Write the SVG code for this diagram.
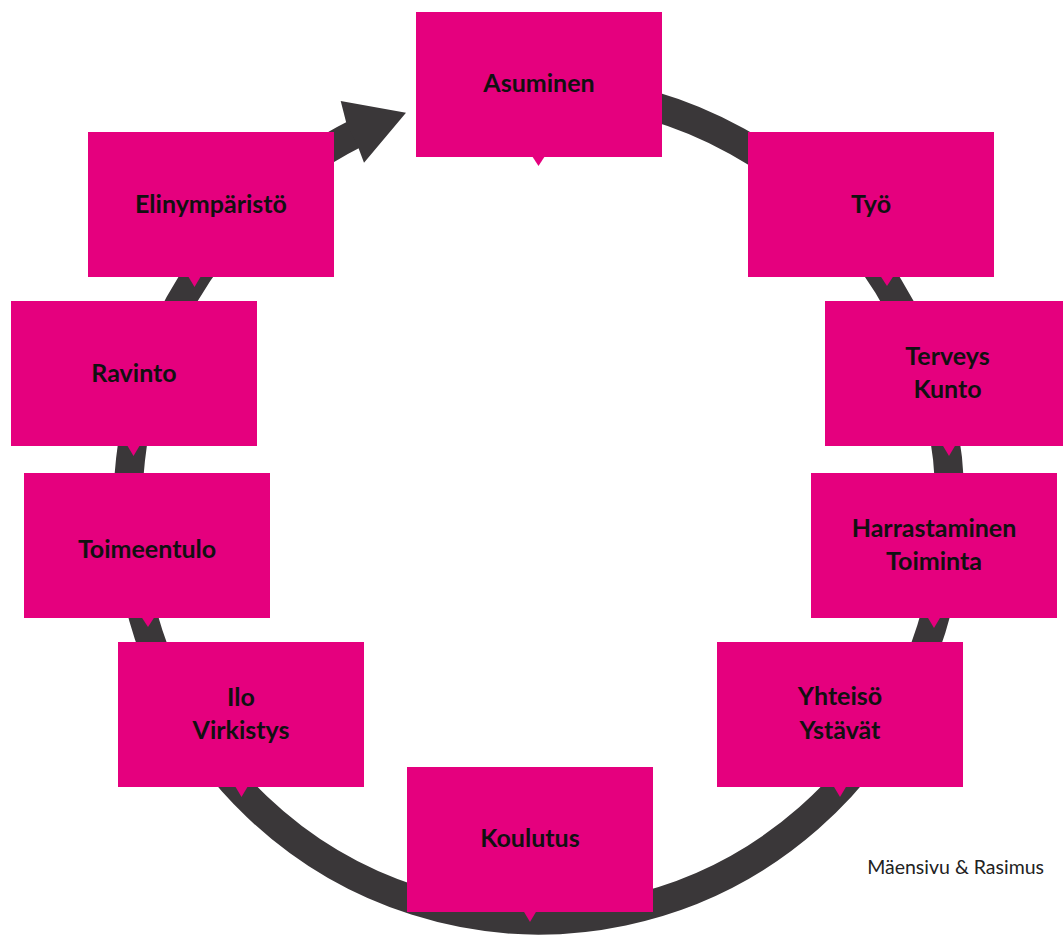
<svg xmlns="http://www.w3.org/2000/svg" width="1063" height="935" viewBox="0 0 1063 935">
  <style>
    .box { fill: #e5007e; }
    .lbl { font-family: Lato, "Liberation Sans", sans-serif; font-weight: bold; font-size: 25px; fill: #111; text-anchor: middle; }
    .ring { fill: none; stroke: #3a3739; stroke-width: 29; }
    .credit { font-family: Lato, "Liberation Sans", sans-serif; font-size: 19.5px; fill: #222; text-anchor: end; }
  </style>
  <rect width="1063" height="935" fill="#ffffff"/>
  <g id="connectors">
    <path class="ring" d="M 356 133.4 A 411 415 0 1 0 560 90.5"/>
    <polygon fill="#3a3739" points="406,112.7 340.7,101 346,121.7 358,146.7 364,162.7"/>
  </g>
  <g id="asuminen">
    <rect class="box" x="416" y="12" width="246" height="145"/>
    <polygon class="box" points="532,156 545,156 538.5,166"/>
    <text class="lbl" x="539" y="91.5">Asuminen</text>
  </g>
  <g id="tyo">
    <rect class="box" x="748" y="132" width="246" height="145"/>
    <polygon class="box" points="880.5,276 893.5,276 887,286"/>
    <text class="lbl" x="871" y="212.5">Työ</text>
  </g>
  <g id="terveys">
    <rect class="box" x="825" y="301" width="246" height="145"/>
    <polygon class="box" points="942.5,445 955.5,445 949,456"/>
    <text class="lbl" x="947.5" y="364.5">Terveys</text>
    <text class="lbl" x="947.5" y="398">Kunto</text>
  </g>
  <g id="harrastaminen">
    <rect class="box" x="811" y="473" width="246" height="145"/>
    <polygon class="box" points="927.5,617 940.5,617 934,628"/>
    <text class="lbl" x="934" y="536.5">Harrastaminen</text>
    <text class="lbl" x="934" y="570">Toiminta</text>
  </g>
  <g id="yhteiso">
    <rect class="box" x="717" y="642" width="246" height="145"/>
    <polygon class="box" points="833.5,786 846.5,786 840,797"/>
    <text class="lbl" x="840" y="705">Yhteisö</text>
    <text class="lbl" x="840" y="738.5">Ystävät</text>
  </g>
  <g id="koulutus">
    <rect class="box" x="407" y="767" width="246" height="145"/>
    <polygon class="box" points="523.5,911 536.5,911 530,922"/>
    <text class="lbl" x="530" y="846.5">Koulutus</text>
  </g>
  <g id="ilo">
    <rect class="box" x="118" y="642" width="246" height="145"/>
    <polygon class="box" points="235,786 248,786 241.5,797"/>
    <text class="lbl" x="241" y="705.5">Ilo</text>
    <text class="lbl" x="241" y="738.5">Virkistys</text>
  </g>
  <g id="toimeentulo">
    <rect class="box" x="24" y="473" width="246" height="145"/>
    <polygon class="box" points="141.5,617 154.5,617 148,627"/>
    <text class="lbl" x="147" y="557.5">Toimeentulo</text>
  </g>
  <g id="ravinto">
    <rect class="box" x="11" y="301" width="246" height="145"/>
    <polygon class="box" points="127,445 140,445 133.5,456"/>
    <text class="lbl" x="134" y="381.5">Ravinto</text>
  </g>
  <g id="elinymparisto">
    <rect class="box" x="88" y="132" width="246" height="145"/>
    <polygon class="box" points="188,276 201,276 194.5,287"/>
    <text class="lbl" x="211" y="212.5">Elinympäristö</text>
  </g>
  <text class="credit" x="1044" y="874">Mäensivu &amp; Rasimus</text>
</svg>
